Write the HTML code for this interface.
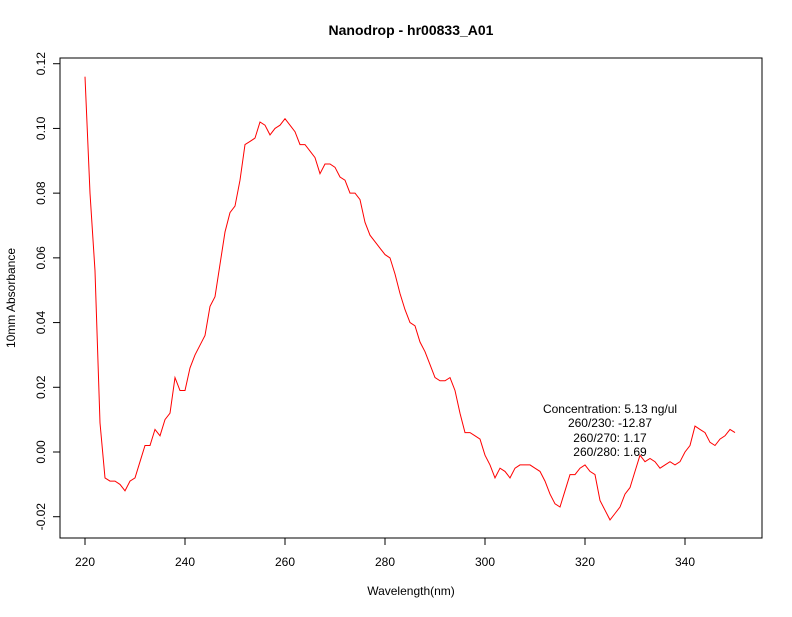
<!DOCTYPE html>
<html><head><meta charset="utf-8"><style>
body{margin:0;background:#fff}
svg text{font-family:"Liberation Sans",sans-serif;font-size:12px;fill:#000}
</style></head><body>
<svg id="chart" width="792" height="612" viewBox="0 0 792 612" xmlns="http://www.w3.org/2000/svg">
<rect width="792" height="612" fill="#fff"/>
<text x="411" y="35" text-anchor="middle" style="font-weight:bold;font-size:14px">Nanodrop - hr00833_A01</text>
<text x="411" y="595" text-anchor="middle">Wavelength(nm)</text>
<text transform="translate(15,298) rotate(-90)" text-anchor="middle">10mm Absorbance</text>
<rect x="60" y="58" width="702" height="480" fill="none" stroke="#000"/>
<g id="xaxis"></g>
<g id="yaxis"></g>
<path id="line" fill="none" stroke="#f00" stroke-width="1"/>
<g text-anchor="middle">
<text x="610" y="413">Concentration: 5.13 ng/ul</text>
<text x="610" y="427">260/230: -12.87</text>
<text x="610" y="442">260/270: 1.17</text>
<text x="610" y="456">260/280: 1.69</text>
</g>
</svg>
<script>
const wavelengthStart = 220;
const absorbance = [0.116,0.080,0.056,0.009,-0.008,-0.009,-0.009,-0.010,-0.012,-0.009,-0.008,-0.003,0.002,0.002,0.007,0.005,0.010,0.012,0.023,0.019,
0.019,0.026,0.030,0.033,0.036,0.045,0.048,0.058,0.068,0.074,0.076,0.084,0.095,0.096,0.097,0.102,0.101,0.098,0.100,0.101,
0.103,0.101,0.099,0.095,0.095,0.093,0.091,0.086,0.089,0.089,0.088,0.085,0.084,0.080,0.080,0.078,0.071,0.067,0.065,0.063,
0.061,0.060,0.055,0.049,0.044,0.040,0.039,0.034,0.031,0.027,0.023,0.022,0.022,0.023,0.019,0.012,0.006,0.006,0.005,0.004,
-0.001,-0.004,-0.008,-0.005,-0.006,-0.008,-0.005,-0.004,-0.004,-0.004,-0.005,-0.006,-0.009,-0.013,-0.016,-0.017,-0.012,-0.007,-0.007,-0.005,
-0.004,-0.006,-0.007,-0.015,-0.018,-0.021,-0.019,-0.017,-0.013,-0.011,-0.006,-0.001,-0.003,-0.002,-0.003,-0.005,-0.004,-0.003,-0.004,-0.003,
0.000,0.002,0.008,0.007,0.006,0.003,0.002,0.004,0.005,0.007,0.006];
const xTicks = [220,240,260,280,300,320,340];
const yTicks = [-0.02,0.00,0.02,0.04,0.06,0.08,0.10,0.12];
const yTickLabels = ["-0.02","0.00","0.02","0.04","0.06","0.08","0.10","0.12"];
const NS="http://www.w3.org/2000/svg";
function xs(w){return 85+(w-220)*5;}
function ys(v){return 452-v*3235.7;}
const xa=document.getElementById('xaxis'), ya=document.getElementById('yaxis');
function mk(tag,attrs,parent){const e=document.createElementNS(NS,tag);for(const k in attrs)e.setAttribute(k,attrs[k]);parent.appendChild(e);return e;}
xTicks.forEach(t=>{
  const l=mk('line',{x1:xs(t),x2:xs(t),y1:538,y2:545,stroke:'#000'},xa);
  
  
  const tx=mk('text',{x:xs(t),y:566,'text-anchor':'middle'},xa);tx.textContent=t;
  
  
});
yTicks.forEach((t,i)=>{
  const y=ys(t);
  const l=mk('line',{x1:53,x2:60,y1:y,y2:y,stroke:'#000'},ya);
  
  
  const tx=mk('text',{transform:`translate(45,${y}) rotate(-90)`,'text-anchor':'middle'},ya);tx.textContent=yTickLabels[i];
  
  
});
document.getElementById('line').setAttribute('d',absorbance.map((v,i)=>(i?'L':'M')+xs(wavelengthStart+i).toFixed(1)+','+ys(v).toFixed(1)).join(''));
</script>
</body></html>
